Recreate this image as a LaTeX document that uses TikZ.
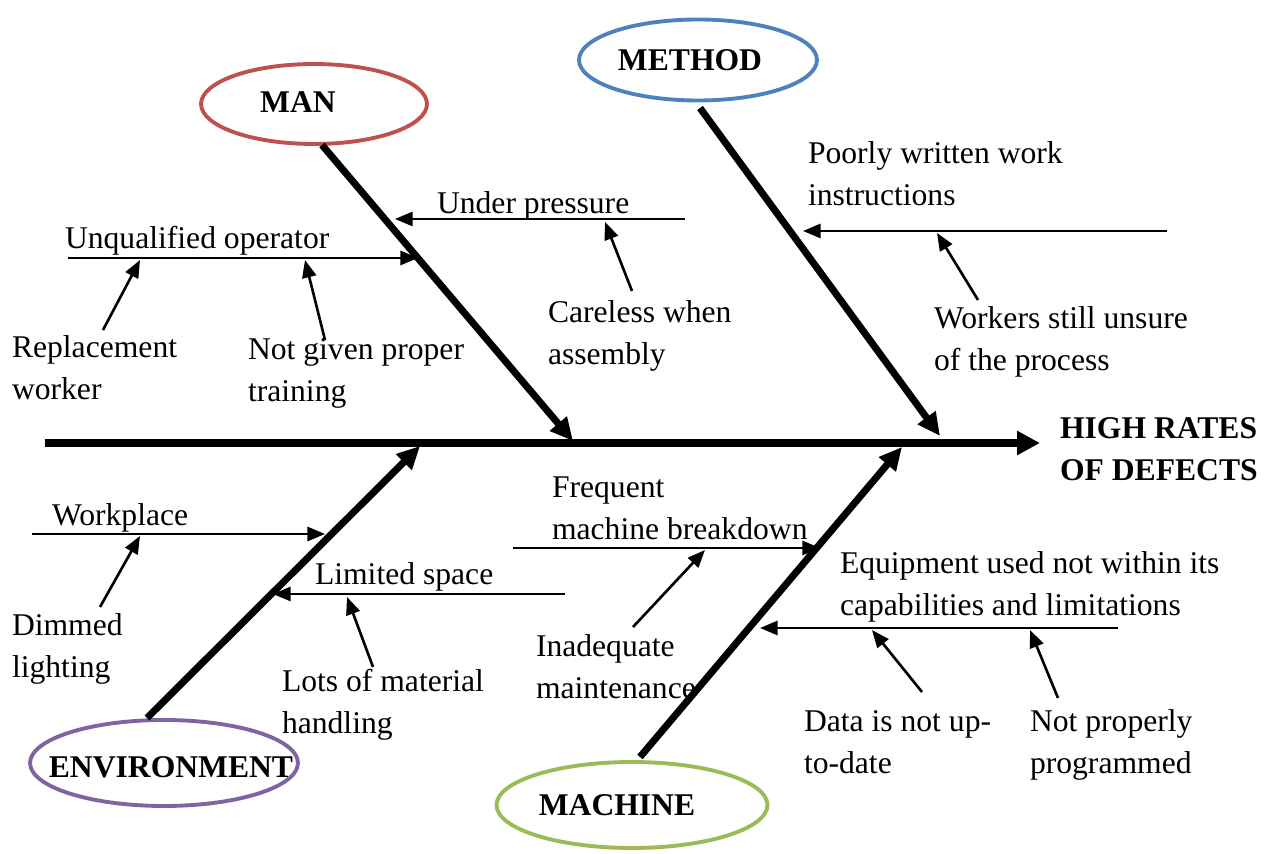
\documentclass[tikz,border=0pt]{standalone}
\usepackage{fontspec}
\setmainfont{Liberation Serif}
\usetikzlibrary{shapes.geometric,arrows.meta}
\definecolor{manred}{HTML}{C0504D}
\definecolor{methodblue}{HTML}{4F81BD}
\definecolor{envpurple}{HTML}{8064A2}
\definecolor{machgreen}{HTML}{9BBB59}

\begin{document}
\begin{tikzpicture}[x=0.02cm,y=-0.02cm,
  every node/.style={inner sep=0pt,outer sep=0pt,font=\fontsize{18}{24}\selectfont},
  % multi-line texts are placed by the baseline of their last line
  txt/.style={anchor=base west,align=left},
  catlabel/.style={anchor=base,font=\fontsize{18}{24}\selectfont\bfseries},
  category/.style={ellipse,draw,line width=2.2pt},
  spine/.style={line width=4.6pt,-{Triangle[length=13pt,width=13pt]}},
  bone/.style={line width=4pt,-{Triangle[length=13pt,width=12pt]}},
  twig/.style={line width=1.5pt,-{Triangle[length=10pt,width=8pt]}}]
\useasboundingbox (0,0) rectangle (1279,854);

% category ellipses and their labels
\node[category,manred,minimum width=4.52cm,minimum height=1.6cm] (man) at (314,104) {};
\node[catlabel] (manlbl) at (298,113) {MAN};
\node[category,methodblue,minimum width=4.76cm,minimum height=1.62cm] (method) at (698,60) {};
\node[catlabel] (methodlbl) at (690,71) {METHOD};
\node[category,envpurple,minimum width=5.36cm,minimum height=1.72cm] (env) at (164,763) {};
\node[catlabel] (envlbl) at (171,778) {ENVIRONMENT};
\node[category,machgreen,minimum width=5.42cm,minimum height=1.72cm] (mach) at (632,805) {};
\node[catlabel] (machlbl) at (617,816) {MACHINE};

% effect
\node[txt,font=\fontsize{18}{24}\selectfont\bfseries] (effect) at (1060,481) {HIGH RATES\\OF DEFECTS};

% cause texts
\node[txt] (under) at (437,214) {Under pressure};
\node[txt] (careless) at (548,365) {Careless when\\assembly};
\node[txt] (unqual) at (65,249) {Unqualified operator};
\node[txt] (replace) at (12,400) {Replacement\\worker};
\node[txt] (training) at (248,402) {Not given proper\\training};
\node[txt] (poorly) at (808,206) {Poorly written work\\instructions};
\node[txt] (unsure) at (934,371) {Workers still unsure\\of the process};
\node[txt] (workplace) at (52,526) {Workplace};
\node[txt] (dimmed) at (12,678) {Dimmed\\lighting};
\node[txt] (limited) at (315,585) {Limited space};
\node[txt] (lots) at (282,734) {Lots of material\\handling};
\node[txt] (frequent) at (552,540) {Frequent\\machine breakdown};
\node[txt] (inadequate) at (536,699) {Inadequate\\maintenance};
\node[txt] (equip) at (840,616) {Equipment used not within its\\capabilities and limitations};
\node[txt] (data) at (804,774) {Data is not up-\\to-date};
\node[txt] (notprog) at (1030,774) {Not properly\\programmed};

% spine
\coordinate (tail) at (45,443);
\coordinate (tip) at (1040,443);
\draw[spine] (tail) -- (tip);

% main bones
\coordinate (manroot) at (322,145);   \coordinate (manhit) at (573,441);
\coordinate (methodroot) at (700,108); \coordinate (methodhit) at (940,436);
\coordinate (envroot) at (147,718);   \coordinate (envhit) at (420,446);
\coordinate (machroot) at (640,757);  \coordinate (machhit) at (902,447);
\draw[bone] (manroot) -- (manhit);
\draw[bone] (methodroot) -- (methodhit);
\draw[bone] (envroot) -- (envhit);
\draw[bone] (machroot) -- (machhit);

% MAN branches
\coordinate (underR) at (685,219);   \coordinate (underT) at (395,219);
\draw[twig] (underR) -- (underT);
\coordinate (carelessF) at (632,291); \coordinate (carelessT) at (605,222);
\draw[twig] (carelessF) -- (carelessT);
\coordinate (unqualL) at (68,258);   \coordinate (unqualT) at (418,258);
\draw[twig] (unqualL) -- (unqualT);
\coordinate (replaceF) at (103,330); \coordinate (replaceT) at (140,260);
\draw[twig] (replaceF) -- (replaceT);
\coordinate (trainingF) at (325,340); \coordinate (trainingT) at (305,260);
\draw[twig] (trainingF) -- (trainingT);

% METHOD branches
\coordinate (poorlyR) at (1167,231); \coordinate (poorlyT) at (803,231);
\draw[twig] (poorlyR) -- (poorlyT);
\coordinate (unsureF) at (978,300);  \coordinate (unsureT) at (937,233);
\draw[twig] (unsureF) -- (unsureT);

% ENVIRONMENT branches
\coordinate (workL) at (32,534);     \coordinate (workT) at (325,534);
\draw[twig] (workL) -- (workT);
\coordinate (dimmedF) at (100,607);  \coordinate (dimmedT) at (140,536);
\draw[twig] (dimmedF) -- (dimmedT);
\coordinate (limitedR) at (565,594); \coordinate (limitedT) at (273,594);
\draw[twig] (limitedR) -- (limitedT);
\coordinate (lotsF) at (373,667);    \coordinate (lotsT) at (347,597);
\draw[twig] (lotsF) -- (lotsT);

% MACHINE branches
\coordinate (freqL) at (513,548);    \coordinate (freqT) at (820,548);
\draw[twig] (freqL) -- (freqT);
\coordinate (inadF) at (633,627);    \coordinate (inadT) at (705,550);
\draw[twig] (inadF) -- (inadT);
\coordinate (equipR) at (1118,628);  \coordinate (equipT) at (760,628);
\draw[twig] (equipR) -- (equipT);
\coordinate (dataF) at (922,692);    \coordinate (dataT) at (872,630);
\draw[twig] (dataF) -- (dataT);
\coordinate (progF) at (1058,698);   \coordinate (progT) at (1030,630);
\draw[twig] (progF) -- (progT);
\end{tikzpicture}
\end{document}
